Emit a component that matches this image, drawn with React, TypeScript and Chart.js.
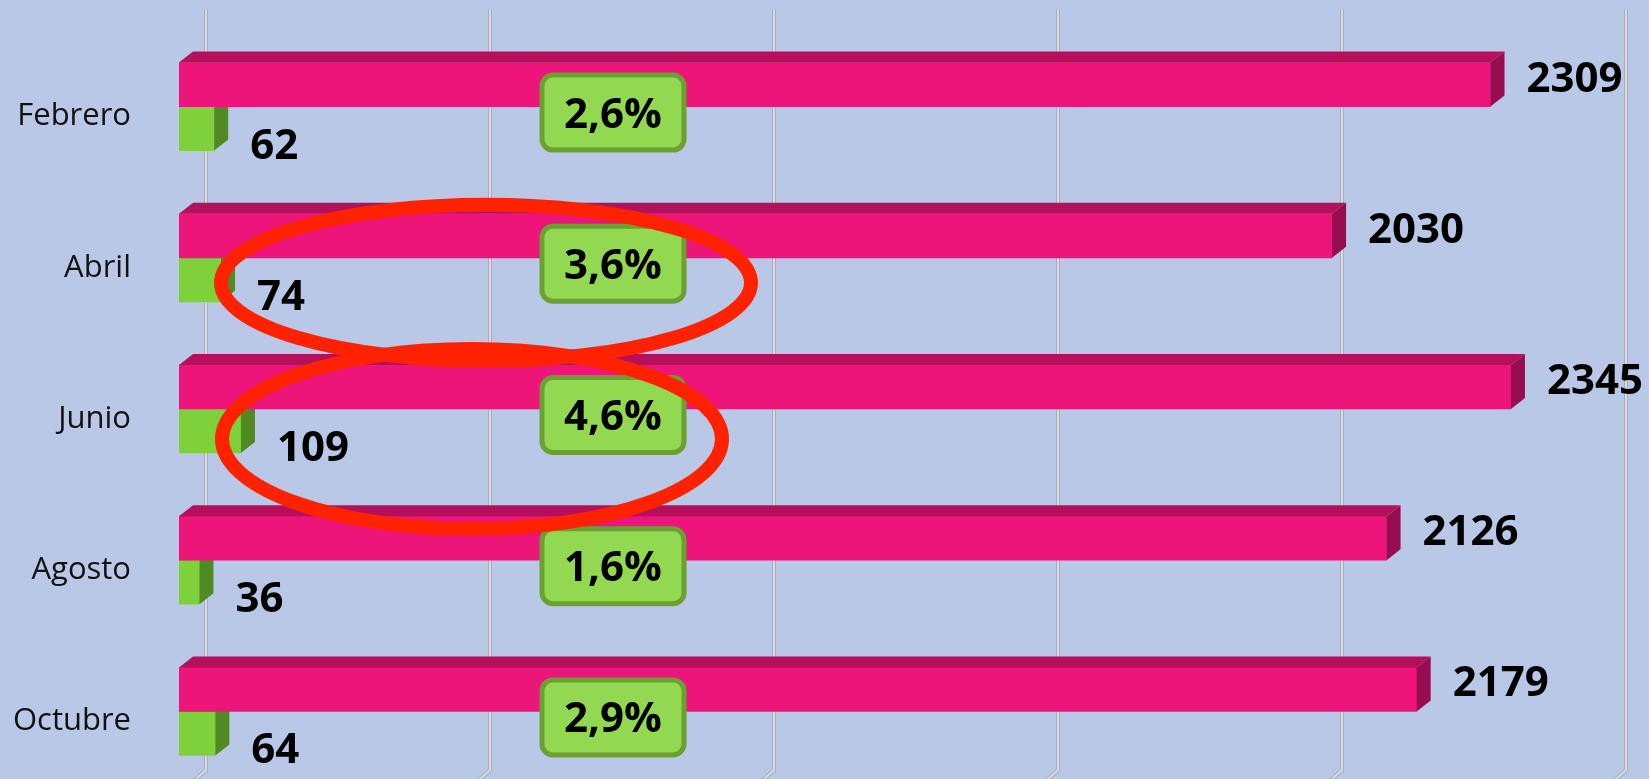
import React, { useEffect, useRef } from "react";
import { Chart, registerables } from "chart.js";

Chart.register(...registerables);

// ---- data ----
const categories = ["Febrero", "Abril", "Junio", "Agosto", "Octubre"];
const totalValues = [2309, 2030, 2345, 2126, 2179];
const subsetValues = [62, 74, 109, 36, 64];
const percentLabels = ["2,6%", "3,6%", "4,6%", "1,6%", "2,9%"];
const gridValues = [0, 500, 1000, 1500, 2000, 2500];
const highlightedRows = [1, 2];

// ---- style ----
const BG = "#B9C8E6";
const FONT = "'Open Sans', 'Noto Sans', sans-serif";
const DX = 14;
const DY = -11;
const WALL_X = 27;
const faceColors = [
  { front: "#ED157A", top: "#B5105C", side: "#960E50" },
  { front: "#7FD13B", top: "#6BB02E", side: "#508A23" },
];
const ellipseStyles = [
  { dx: 307, dy: 25, rx: 265, ry: 78 },
  { dx: 293, dy: 30, rx: 250, ry: 90 },
];
const BOX_FRACTION = 434 / 1420;

const threeDPlugin = {
  id: "threeD",
  beforeDatasetsDraw(chart: any) {
    const ctx = chart.ctx;
    const xs = chart.scales.x;
    ctx.save();
    ctx.lineJoin = "miter";
    for (const v of gridValues) {
      const x = xs.getPixelForValue(v) + WALL_X;
      ctx.beginPath();
      ctx.moveTo(x, 10);
      ctx.lineTo(x, 770);
      ctx.lineTo(x - 12, 781);
      ctx.strokeStyle = "#A8AEBD";
      ctx.lineWidth = 4;
      ctx.stroke();
      ctx.strokeStyle = "#D9DADF";
      ctx.lineWidth = 2;
      ctx.stroke();
    }
    ctx.restore();
  },
  afterDatasetDraw(chart: any, args: any) {
    const ctx = chart.ctx;
    const f = faceColors[args.index];
    ctx.save();
    args.meta.data.forEach((bar: any) => {
      const { x, y, base, height } = bar.getProps(["x", "y", "base", "height"], true);
      const top = y - height / 2;
      const bottom = y + height / 2;
      ctx.fillStyle = f.top;
      ctx.beginPath();
      ctx.moveTo(base, top);
      ctx.lineTo(base + DX, top + DY);
      ctx.lineTo(x + DX, top + DY);
      ctx.lineTo(x, top);
      ctx.closePath();
      ctx.fill();
      ctx.fillStyle = f.side;
      ctx.beginPath();
      ctx.moveTo(x, top);
      ctx.lineTo(x + DX, top + DY);
      ctx.lineTo(x + DX, bottom + DY);
      ctx.lineTo(x, bottom);
      ctx.closePath();
      ctx.fill();
    });
    ctx.restore();
  },
  afterDatasetsDraw(chart: any) {
    const ctx = chart.ctx;
    const area = chart.chartArea;
    const ys = chart.scales.y;
    ctx.save();
    // value labels
    ctx.fillStyle = "#000";
    ctx.font = `bold 42px ${FONT}`;
    ctx.textAlign = "left";
    ctx.textBaseline = "alphabetic";
    [0, 1].forEach((di) => {
      const meta = chart.getDatasetMeta(di);
      meta.data.forEach((bar: any, i: number) => {
        const { x, y } = bar.getProps(["x", "y"], true);
        const val = chart.data.datasets[di].data[i];
        const by = di === 0 ? y + 7 : y + 30;
        ctx.fillText(String(val), x + DX + 22, by);
      });
    });
    // percent boxes
    const bx = area.left + BOX_FRACTION * (area.right - area.left);
    const bw = 142;
    const bh = 75;
    percentLabels.forEach((lbl, i) => {
      const cy = ys.getPixelForValue(i) + 6;
      ctx.beginPath();
      ctx.roundRect(bx - bw / 2, cy - bh / 2, bw, bh, 11);
      ctx.fillStyle = "#92D850";
      ctx.fill();
      ctx.lineWidth = 5;
      ctx.strokeStyle = "#6BA032";
      ctx.stroke();
      ctx.fillStyle = "#000";
      ctx.textAlign = "center";
      ctx.fillText(lbl, bx, cy + 15);
    });
    // highlight ellipses
    highlightedRows.forEach((row, k) => {
      const s = ellipseStyles[k];
      const cy = ys.getPixelForValue(row) + s.dy;
      ctx.beginPath();
      ctx.ellipse(area.left + s.dx, cy, s.rx, s.ry, 0, 0, Math.PI * 2);
      ctx.lineWidth = 14;
      ctx.strokeStyle = "#FF2200";
      ctx.stroke();
    });
    ctx.restore();
  },
};

export default function App() {
  const ref = useRef<HTMLCanvasElement | null>(null);
  useEffect(() => {
    if (!ref.current) return;
    const chart = new Chart(ref.current, {
      type: "bar",
      data: {
        labels: categories,
        datasets: [
          {
            label: "Total",
            data: totalValues,
            backgroundColor: faceColors[0].front,
            borderWidth: 0,
            barThickness: 44,
          },
          {
            label: "Subconjunto",
            data: subsetValues,
            backgroundColor: faceColors[1].front,
            borderWidth: 0,
            barThickness: 44,
          },
        ],
      },
      options: {
        indexAxis: "y",
        animation: false,
        responsive: false,
        devicePixelRatio: 1,
        layout: { padding: { top: 31, bottom: 3, right: 50, left: 0 } },
        plugins: {
          legend: { display: false },
          tooltip: { enabled: false },
          title: { display: false },
        },
        scales: {
          x: {
            display: false,
            min: 0,
            max: 2500,
          },
          y: {
            grid: { display: false, drawTicks: false, tickLength: 0 },
            border: { display: false },
            afterFit: (s: any) => {
              s.width = 179;
              s.paddingTop = 0;
              s.paddingBottom = 0;
            },
            ticks: {
              padding: 48,
              labelOffset: 10,
              color: "#111",
              font: { family: FONT, size: 31 },
            },
          },
        },
      } as any,
      plugins: [threeDPlugin],
    });
    return () => chart.destroy();
  }, []);
  return (
    <div
      style={{
        position: "fixed",
        left: 0,
        top: 0,
        width: 1649,
        height: 779,
        overflow: "hidden",
        background: BG,
      }}
    >
      <canvas ref={ref} width={1649} height={790} style={{ display: "block", width: 1649, height: 790 }} />
    </div>
  );
}
